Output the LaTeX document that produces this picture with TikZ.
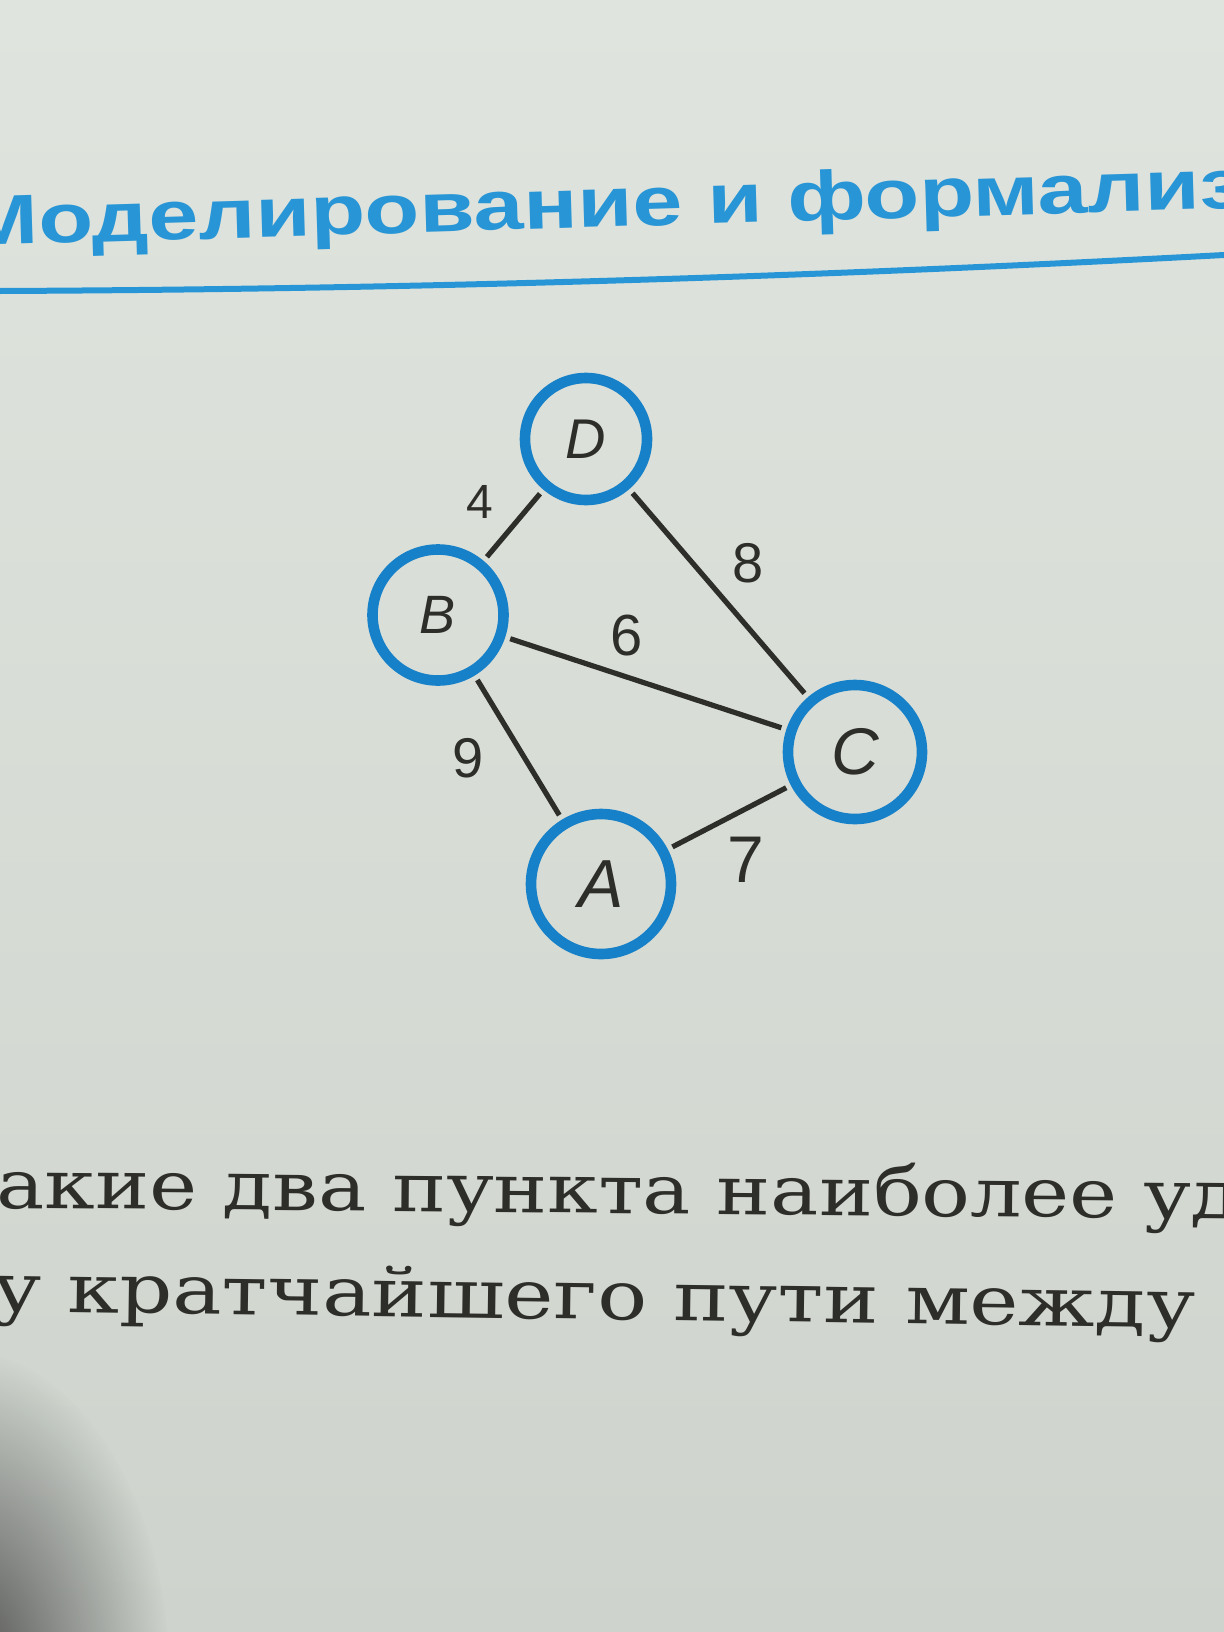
\documentclass[tikz,border=0pt]{standalone}
\usepackage{fontspec}
\setmainfont{DejaVu Serif}
\newfontfamily\hdrfont{Liberation Sans}
\newfontfamily\grfont{Liberation Sans}
\usetikzlibrary{fadings}
\definecolor{paperlight}{RGB}{224,228,222}
\definecolor{paper}{RGB}{206,212,205}
\definecolor{ring}{RGB}{22,128,200}
\definecolor{hdr}{RGB}{40,150,214}
\definecolor{ink}{RGB}{45,45,42}
\tikzfading[name=softshadow, inner color=transparent!0, outer color=transparent!100]
\begin{document}
\begin{tikzpicture}[x=0.5pt,y=-0.5pt,
  vertex/.style={circle, draw=ring, line width=5.3pt, inner sep=0pt, text=ink},
  lsize/.style={font=\grfont\itshape\fontsize{#1}{#1}\selectfont},
  weight/.style={inner sep=0pt, text=ink, font=\grfont\fontsize{#1}{#1}\selectfont},
  edge/.style={draw=ink, line width=2.6pt, shorten <=2.6pt, shorten >=2.6pt},
  caption/.style={anchor=base west, inner sep=0pt, text=ink, font=\fontsize{34}{36}\selectfont}]
\useasboundingbox (0,0) rectangle (1224,1632);
\begin{scope}
\clip (0,0) rectangle (1224,1632);
\fill[top color=paperlight, bottom color=paper] (0,0) rectangle (1224,1632);
\fill[black!70, path fading=softshadow] (-40,1680) ellipse (210 and 330);

% header
\node[anchor=base west, rotate=1.7, inner sep=0pt, text=hdr,
      font=\hdrfont\bfseries\fontsize{35}{35}\selectfont] (title) at (-36,246)
      {\scalebox{1.28}[1]{Моделирование и формализ}};
\draw[hdr, line width=3pt] (0,291) .. controls (450,289) and (850,275) .. (1224,255);

% graph
\node[vertex, lsize=28, minimum size=61pt] (D) at (586,439) {D};
\node[vertex, lsize=27, minimum size=65.5pt] (B) at (438,615) {B};
\node[vertex, lsize=33, minimum size=67pt] (C) at (855,752) {C};
\node[vertex, lsize=34, minimum size=70pt] (A) at (601,884) {A};

\draw[edge] (D) -- (B);
\draw[edge] (D) -- (C);
\draw[edge] (B) -- (C);
\draw[edge] (B) -- (A);
\draw[edge] (A) -- (C);

\node[weight=24] (w4) at (480,502) {4};
\node[weight=28] (w8) at (748,563) {8};
\node[weight=29] (w6) at (627,636) {6};
\node[weight=28] (w9) at (468,758) {9};
\node[weight=33] (w7) at (746,860) {7};

% text below
\node[caption, rotate=-0.5] (q1) at (-4,1208) {\scalebox{1.19}[1]{акие два пункта наиболее уд}};
\node[caption, rotate=-0.8] (q2) at (-8,1311) {\scalebox{1.22}[1]{у кратчайшего пути между}};
\end{scope}
\end{tikzpicture}
\end{document}
